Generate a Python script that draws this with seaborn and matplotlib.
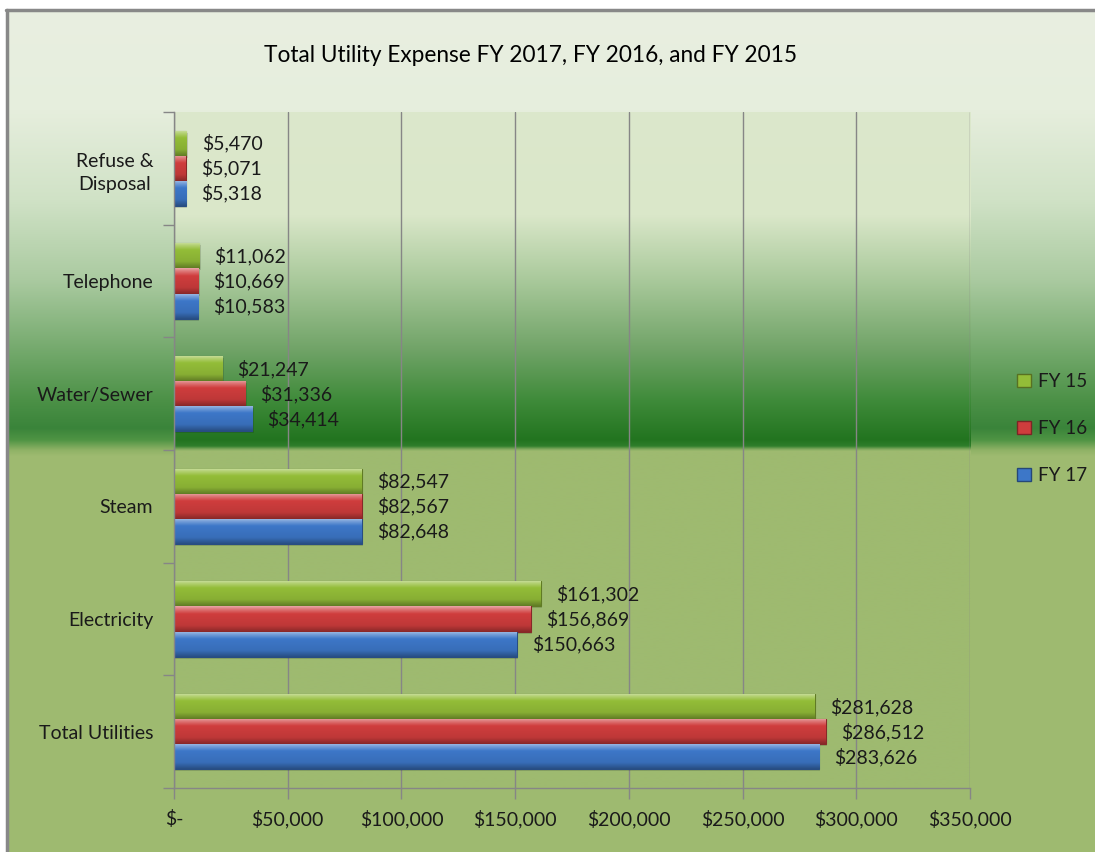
import numpy as np
import pandas as pd
import matplotlib
matplotlib.use("Agg")
import matplotlib.pyplot as plt
import seaborn as sns
from matplotlib.colors import to_rgb
from matplotlib.ticker import FuncFormatter
from matplotlib.lines import Line2D
from matplotlib.patches import Rectangle

# ---------------- data ----------------
categories = ["Refuse &\nDisposal", "Telephone", "Water/Sewer", "Steam",
              "Electricity", "Total Utilities"]
series = ["FY 15", "FY 16", "FY 17"]
fy15 = [5470, 11062, 21247, 82547, 161302, 281628]
fy16 = [5071, 10669, 31336, 82567, 156869, 286512]
fy17 = [5318, 10583, 34414, 82648, 150663, 283626]
x_ticks = [0, 50000, 100000, 150000, 200000, 250000, 300000, 350000]
title = "Total Utility Expense FY 2017, FY 2016, and FY 2015"

colors = {"FY 15": "#93bd38", "FY 16": "#cf3d3d", "FY 17": "#3d77c8"}

rows = []
for s, vals in zip(series, [fy15, fy16, fy17]):
    for c, v in zip(categories, vals):
        rows.append({"cat": c, "year": s, "value": v})
df = pd.DataFrame(rows)

sns.set_style("white")
plt.rcParams["font.family"] = ["Lato", "DejaVu Sans"]

W, H = 1095, 852
fig = plt.figure(figsize=(W / 100, H / 100), dpi=100)
fig.patch.set_facecolor("white")


def grad(stops, n=1000):
    pos = np.array([p for p, _ in stops])
    cols = np.array([to_rgb(c) for _, c in stops])
    t = np.linspace(0, 1, n)
    arr = np.stack([np.interp(t, pos, cols[:, k]) for k in range(3)], axis=-1)
    return arr[:, None, :]


# figure background gradient placed pixel-exact (rows y = 10 .. 851)
fy0, fx0 = 10, 7
fig_stops_px = [(10, "#e9efe1"), (110, "#e6eedd"), (200, "#d0e2c6"),
                (280, "#aacaa0"), (340, "#7cae74"), (400, "#4c9147"),
                (428, "#3a843a"), (440, "#4f9444"), (450, "#8fb266"),
                (456, "#9eba70"), (852, "#9eba70")]
fig_stops = [((y - fy0) / (H - fy0), c) for y, c in fig_stops_px]
col = grad(fig_stops, H - fy0)
bg_arr = np.repeat(col, W - fx0, axis=1)
fig.figimage(bg_arr, xo=fx0, yo=0, origin="upper", zorder=-5)
fig.add_artist(Line2D([6 / W, 1.01], [1 - 9.5 / H, 1 - 9.5 / H], color="#888888", lw=2.5))
fig.add_artist(Line2D([6.5 / W, 6.5 / W], [-0.01, 1 - 9.5 / H], color="#888888", lw=2.5))

# main axes
L, R, T, B = 174, 970, 112, 788
ax = fig.add_axes([L / W, 1 - B / H, (R - L) / W, (B - T) / H])
ax.set_zorder(1)
ax.patch.set_alpha(0)

plot_stops_px = [(112, "#dce8cc"), (215, "#dae7c9"), (280, "#a9c99b"),
                 (350, "#70a367"), (400, "#3f8b3a"), (440, "#22741f"),
                 (446, "#2f7e2b"), (449, "#7ea85c"), (451, "#9eba70"),
                 (788, "#9eba70")]
plot_stops = [((y - T) / (B - T), c) for y, c in plot_stops_px]
ax.imshow(grad(plot_stops), aspect="auto", extent=(0, 1, 0, 1), origin="upper",
          transform=ax.transAxes, zorder=0, interpolation="bilinear")

sns.barplot(data=df, y="cat", x="value", hue="year", order=categories,
            hue_order=series, palette=colors, orient="h", width=0.667,
            ax=ax, legend=False, saturation=1, zorder=2)


def mix(c, other, a):
    c = np.array(to_rgb(c)); o = np.array(to_rgb(other))
    return tuple(c * (1 - a) + o * a)


# bevel shading on bars
for p in list(ax.patches):
    x0, y0 = p.get_x(), p.get_y()
    w, h = p.get_width(), p.get_height()
    base = p.get_facecolor()[:3]
    p.set_edgecolor(mix(base, "black", 0.35))
    p.set_linewidth(0.8)
    sh = Rectangle((x0 + 600, y0 + h * 0.08), w, h, facecolor="black", alpha=0.12,
                   edgecolor="none", zorder=1.9)
    ax.add_patch(sh)
    stops = [(0.0, mix(base, "white", 0.55)), (0.12, mix(base, "white", 0.3)),
             (0.3, base), (0.75, mix(base, "black", 0.08)),
             (1.0, mix(base, "black", 0.35))]
    im = ax.imshow(grad(stops, 200), aspect="auto", extent=(x0, x0 + w, y0 + h, y0),
                   origin="upper", zorder=2.1, interpolation="bilinear")
    im.set_clip_path(p)
    ax.annotate(f"${w:,.0f}", xy=(x0 + w, y0 + h / 2), xytext=(11, 0),
                textcoords="offset points", ha="left", va="center",
                fontsize=14, color="#1a1a1a", zorder=4)

ax.set_xlim(0, 350000)
ax.set_ylim(5.5, -0.5)
ax.set_xticks(x_ticks)
ax.xaxis.set_major_formatter(FuncFormatter(lambda v, p: "$-" if v == 0 else f"${v:,.0f}"))
ax.set_yticks(np.arange(-0.5, 6, 1), labels=[""] * 7)
ax.set_yticks(range(len(categories)), labels=categories, minor=True)
ax.tick_params(axis="y", which="minor", length=0, pad=15, labelsize=14,
               labelcolor="#1a1a1a")
ax.tick_params(axis="y", which="major", length=8, width=1, color="#868686",
               direction="out", left=True)
ax.tick_params(axis="x", length=8, width=1, color="#868686", direction="out",
               pad=8, labelsize=14, labelcolor="#1a1a1a", bottom=True)
for lab in ax.get_yticklabels(minor=True):
    lab.set_multialignment("center")
    lab.set_linespacing(1.45)
ax.grid(axis="x", color="#868686", lw=1, zorder=0.5)
ax.grid(axis="y", visible=False)
ax.set_axisbelow(True)
for s in ["top", "right"]:
    ax.spines[s].set_visible(False)
for s in ["left", "bottom"]:
    ax.spines[s].set_color("#868686")
    ax.spines[s].set_linewidth(1)
ax.set_xlabel("")
ax.set_ylabel("")

fig.text(531 / W, 1 - 55 / H, title, ha="center", va="center", fontsize=16.3,
         color="black")

handles = [Rectangle((0, 0), 1, 1, facecolor=colors[s],
                     edgecolor=mix(colors[s], "black", 0.4)) for s in series]
fig.legend(handles, series, loc="upper left", bbox_to_anchor=(1008 / W, 1 - 364 / H),
           frameon=False, fontsize=13.5, handlelength=0.7, handleheight=0.7,
           handletextpad=0.4, labelspacing=1.6, borderpad=0, labelcolor="#1a1a1a")

fig.savefig("out.png", dpi=100)
